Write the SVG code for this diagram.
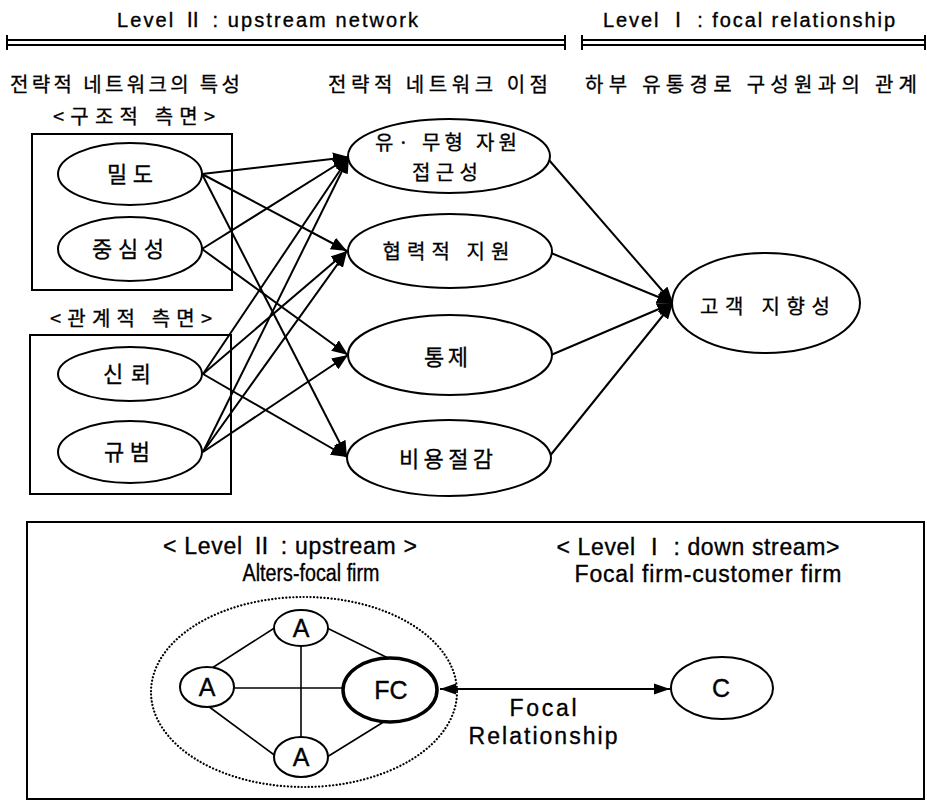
<svg xmlns="http://www.w3.org/2000/svg" width="927" height="802" viewBox="0 0 927 802">
<style>
text{font-family:"Liberation Sans","Noto Sans CJK KR",Arial,sans-serif;fill:#000;stroke:#000;stroke-width:0.35}
.kr{font-family:"Noto Sans CJK KR","Liberation Sans",sans-serif;font-size:20px;stroke-width:0.3}
.kl{font-size:22px}
.hd{font-size:20px}
.en{font-size:23px}
.lb{font-size:25px}
.nd{fill:#fff;stroke:#000;stroke-width:2}
.bx{fill:none;stroke:#000;stroke-width:2}
.cn{fill:none;stroke:#000;stroke-width:2}
.ar{marker-end:url(#ah)}
.thin{stroke-width:1.6}
.thick{fill:#fff;stroke:#000;stroke-width:3.5}
</style>
<defs>
<marker id="ah" markerUnits="userSpaceOnUse" markerWidth="17" markerHeight="13" refX="16" refY="6.5" orient="auto">
<path d="M0,0 L16,6.5 L0,13 z" fill="#000"/>
</marker>
<marker id="ahs" markerUnits="userSpaceOnUse" markerWidth="17" markerHeight="12" refX="16" refY="6" orient="auto-start-reverse">
<path d="M0,0.5 L16,6 L0,11.5 z" fill="#000"/>
</marker>
</defs>
<rect width="927" height="802" fill="#fff"/>

<g id="header">
<text class="hd" x="117" y="27" textLength="301" lengthAdjust="spacing">Level Ⅱ : upstream network</text>
<text class="hd" x="603" y="27" textLength="292" lengthAdjust="spacing">Level Ⅰ : focal relationship</text>
<g stroke="#000" stroke-width="2" fill="none">
<line x1="7" y1="40" x2="565" y2="40"/><line x1="7" y1="45" x2="565" y2="45"/>
<line x1="7" y1="35" x2="7" y2="50"/><line x1="565" y1="35" x2="565" y2="50"/>
<line x1="582" y1="40" x2="925" y2="40"/><line x1="582" y1="45" x2="925" y2="45"/>
<line x1="582" y1="35" x2="582" y2="50"/><line x1="925" y1="35" x2="925" y2="50"/>
</g>
<text class="kr" x="10" y="92" textLength="230" lengthAdjust="spacing">전략적 네트워크의 특성</text>
<text class="kr" x="328" y="92" textLength="220" lengthAdjust="spacing">전략적 네트워크 이점</text>
<text class="kr" x="585" y="92" textLength="332" lengthAdjust="spacing">하부 유통경로 구성원과의 관계</text>
</g>

<g id="group-structural">
<text class="kr" x="53" y="124" textLength="162" lengthAdjust="spacing">&lt;구조적 측면&gt;</text>
<rect class="bx" x="32" y="134" width="200" height="156"/>
</g>
<g id="group-relational">
<text class="kr" x="50" y="326" textLength="162" lengthAdjust="spacing">&lt;관계적 측면&gt;</text>
<rect class="bx" x="30" y="335" width="201" height="159"/>
</g>

<g id="connectors">
<line class="cn ar" x1="202" y1="174" x2="349" y2="157"/>
<line class="cn ar" x1="202" y1="174" x2="347" y2="251"/>
<line class="cn ar" x1="202" y1="174" x2="347" y2="457"/>
<line class="cn ar" x1="202" y1="249" x2="349" y2="157"/>
<line class="cn ar" x1="202" y1="249" x2="348" y2="355"/>
<line class="cn ar" x1="203" y1="374" x2="349" y2="157"/>
<line class="cn ar" x1="203" y1="374" x2="347" y2="251"/>
<line class="cn ar" x1="203" y1="374" x2="347" y2="457"/>
<line class="cn ar" x1="203" y1="452" x2="349" y2="157"/>
<line class="cn ar" x1="203" y1="452" x2="347" y2="251"/>
<line class="cn ar" x1="203" y1="452" x2="348" y2="355"/>
<line class="cn ar" x1="549" y1="160" x2="673" y2="303"/>
<line class="cn ar" x1="551" y1="253" x2="673" y2="303"/>
<line class="cn ar" x1="551" y1="355" x2="673" y2="303"/>
<line class="cn ar" x1="549" y1="457" x2="673" y2="303"/>
</g>

<g id="node-density"><ellipse class="nd" cx="130" cy="174" rx="72" ry="31"/><text class="kr kl" x="130" y="182" text-anchor="middle" textLength="46" lengthAdjust="spacing">밀도</text></g>
<g id="node-centrality"><ellipse class="nd" cx="130" cy="249" rx="72" ry="32"/><text class="kr kl" x="128" y="257" text-anchor="middle" textLength="72" lengthAdjust="spacing">중심성</text></g>
<g id="node-trust"><ellipse class="nd" cx="130" cy="374" rx="72" ry="27"/><text class="kr kl" x="127" y="382" text-anchor="middle" textLength="48" lengthAdjust="spacing">신뢰</text></g>
<g id="node-norm"><ellipse class="nd" cx="130" cy="452" rx="72" ry="31"/><text class="kr kl" x="127" y="460" text-anchor="middle" textLength="46" lengthAdjust="spacing">규범</text></g>

<g id="node-resource"><ellipse class="nd" cx="449" cy="156" rx="101" ry="37"/><text class="kr" x="446" y="150" text-anchor="middle" textLength="142" lengthAdjust="spacing">유· 무형 자원</text><text class="kr" x="445" y="180" text-anchor="middle" textLength="66" lengthAdjust="spacing">접근성</text></g>
<g id="node-support"><ellipse class="nd" cx="450" cy="251" rx="102" ry="37"/><text class="kr" x="446" y="259" text-anchor="middle" textLength="127" lengthAdjust="spacing">협력적 지원</text></g>
<g id="node-control"><ellipse class="nd" cx="450" cy="355" rx="102" ry="40"/><text class="kr kl" x="446" y="365" text-anchor="middle" textLength="44" lengthAdjust="spacing">통제</text></g>
<g id="node-cost"><ellipse class="nd" cx="449" cy="458" rx="102" ry="38"/><text class="kr kl" x="446" y="467" text-anchor="middle" textLength="94" lengthAdjust="spacing">비용절감</text></g>

<g id="node-customer"><ellipse class="nd" cx="766" cy="303" rx="94" ry="50"/><text class="kr" x="765" y="314" text-anchor="middle" textLength="130" lengthAdjust="spacing">고객 지향성</text></g>

<g id="bottom-panel">
<rect class="bx" x="27" y="522" width="897" height="277"/>
<text class="en" x="290" y="554" text-anchor="middle" textLength="254" lengthAdjust="spacing">&lt; Level Ⅱ : upstream &gt;</text>
<text class="en" x="311" y="581" text-anchor="middle" textLength="137" lengthAdjust="spacingAndGlyphs">Alters-focal firm</text>
<text class="en" x="698" y="555" text-anchor="middle" textLength="283" lengthAdjust="spacing">&lt; Level Ⅰ : down stream&gt;</text>
<text class="en" x="708" y="582" text-anchor="middle" textLength="267" lengthAdjust="spacing">Focal firm-customer firm</text>
<ellipse cx="304" cy="692" rx="153" ry="95" fill="none" stroke="#000" stroke-width="2.2" stroke-dasharray="0.1 3.4" stroke-linecap="round"/>
</g>

<g id="bottom-connectors">
<line class="cn thin" x1="212" y1="668" x2="276" y2="627"/>
<line class="cn thin" x1="327" y1="628" x2="388" y2="658"/>
<line class="cn thin" x1="301" y1="646" x2="301" y2="738"/>
<line class="cn thin" x1="234" y1="688" x2="342" y2="688"/>
<line class="cn thin" x1="208" y1="706" x2="277" y2="757"/>
<line class="cn thin" x1="327" y1="757" x2="390" y2="718"/>
<line x1="440" y1="689" x2="670" y2="689" stroke="#000" stroke-width="2" marker-start="url(#ahs)" marker-end="url(#ahs)"/>
<text class="en" x="543" y="716" text-anchor="middle" textLength="67" lengthAdjust="spacing">Focal</text>
<text class="en" x="543" y="744" text-anchor="middle" textLength="149" lengthAdjust="spacing">Relationship</text>
</g>

<g id="node-a-top"><ellipse class="nd" cx="301" cy="628" rx="27" ry="18"/><text class="lb" x="301" y="637" text-anchor="middle">A</text></g>
<g id="node-a-left"><ellipse class="nd" cx="207" cy="687" rx="27" ry="20"/><text class="lb" x="207" y="696" text-anchor="middle">A</text></g>
<g id="node-a-bottom"><ellipse class="nd" cx="301" cy="757" rx="27" ry="20"/><text class="lb" x="301" y="766" text-anchor="middle">A</text></g>
<g id="node-fc"><ellipse class="thick" cx="390" cy="690" rx="47" ry="32"/><text class="lb" x="391" y="699" text-anchor="middle">FC</text></g>
<g id="node-c"><ellipse class="nd" cx="722" cy="688" rx="51" ry="31" stroke-width="3"/><text class="lb" x="721" y="697" text-anchor="middle">C</text></g>
</svg>
